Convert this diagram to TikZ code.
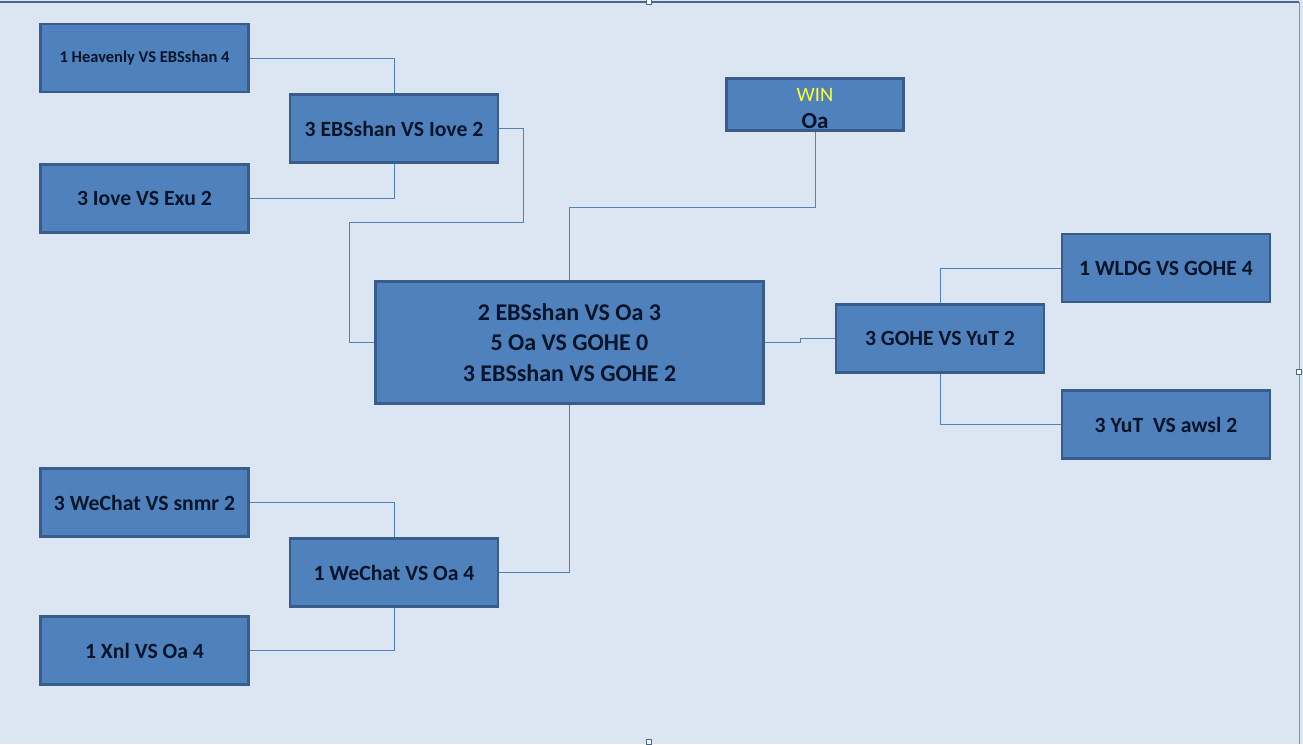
\documentclass[tikz,border=0pt]{standalone}
\usepackage{fontspec}
\setmainfont{Carlito}
\definecolor{bg}{HTML}{DCE6F2}
\definecolor{boxc}{HTML}{4F81BD}
\definecolor{bord}{HTML}{385D8A}
\definecolor{txt}{HTML}{08142A}
\definecolor{lnc}{HTML}{4F81BD}
\definecolor{frame}{HTML}{4A6690}
\definecolor{winc}{HTML}{FFFF33}
\tikzset{
  mbox/.style={draw=bord, fill=boxc, line width=2.5pt, minimum width=208pt, minimum height=68pt,
    inner sep=0pt, text=txt, align=center, font=\bfseries\fontsize{21.7}{30}\selectfont},
  link/.style={draw=lnc, line width=0.9pt},
  handle/.style={draw=frame, fill=white, line width=0.6pt, minimum size=5pt, inner sep=0pt}
}
\begin{document}
\begin{tikzpicture}[x=1pt,y=-1pt]
\fill[bg] (0,0) rectangle (1303,744);
\useasboundingbox (0,0) rectangle (1303,744);
\draw[frame, line width=2pt] (0,2) -- (1299,2);
\draw[frame!70, line width=1pt] (1299,2) -- (1299,744);
\node[handle] (h1) at (649,2) {};
\node[handle] (h2) at (1299,372) {};
\node[handle] (h3) at (649,742) {};

\node[mbox, font=\bfseries\fontsize{16.5}{18}\selectfont] (A) at (144.5,58) {1 Heavenly VS EBSshan 4};
\node[mbox] (B) at (144.5,198.5) {3 Iove VS Exu 2};
\node[mbox] (C) at (394,128.5) {3 EBSshan VS Iove 2};
\node[mbox, minimum width=388pt, minimum height=122pt, font=\bfseries\fontsize{24}{30.5}\selectfont] (D) at (569.5,342.5)
  {2 EBSshan VS Oa 3\\5 Oa VS GOHE 0\\3 EBSshan VS GOHE 2};
\node[mbox, minimum width=177pt, minimum height=52pt, font=\fontsize{23}{26}\selectfont] (W) at (815,104.5)
  {\rule{0pt}{21pt}{\color{winc}\fontsize{20.5}{22}\selectfont WIN}\\[1pt]\textbf{Oa}};
\node[mbox] (E) at (940,338.5) {3 GOHE VS YuT 2};
\node[mbox] (F) at (1166,268) {1 WLDG VS GOHE 4};
\node[mbox] (G) at (1166,424.5) {3 YuT\ \ VS awsl 2};
\node[mbox] (H) at (144.5,502.5) {3 WeChat VS snmr 2};
\node[mbox] (I) at (394,572.5) {1 WeChat VS Oa 4};
\node[mbox] (J) at (144.5,650.5) {1 Xnl VS Oa 4};

\coordinate (k1) at (523,222);
\coordinate (k2) at (349,222);
\coordinate (k3) at (815,207);
\coordinate (k4) at (800,340);

\draw[link] (A.east) -| (C.north);
\draw[link] (B.east) -| (C.south);
\draw[link] (C.east) -| (k1) -- (k2) |- (D.west);
\draw[link] (D.north) |- (k3) -- (W.south);
\draw[link] (D.east) -| (k4) |- (E.west);
\draw[link] (E.north) |- (F.west);
\draw[link] (E.south) |- (G.west);
\draw[link] (H.east) -| (I.north);
\draw[link] (J.east) -| (I.south);
\draw[link] (I.east) -| (D.south);
\end{tikzpicture}
\end{document}
